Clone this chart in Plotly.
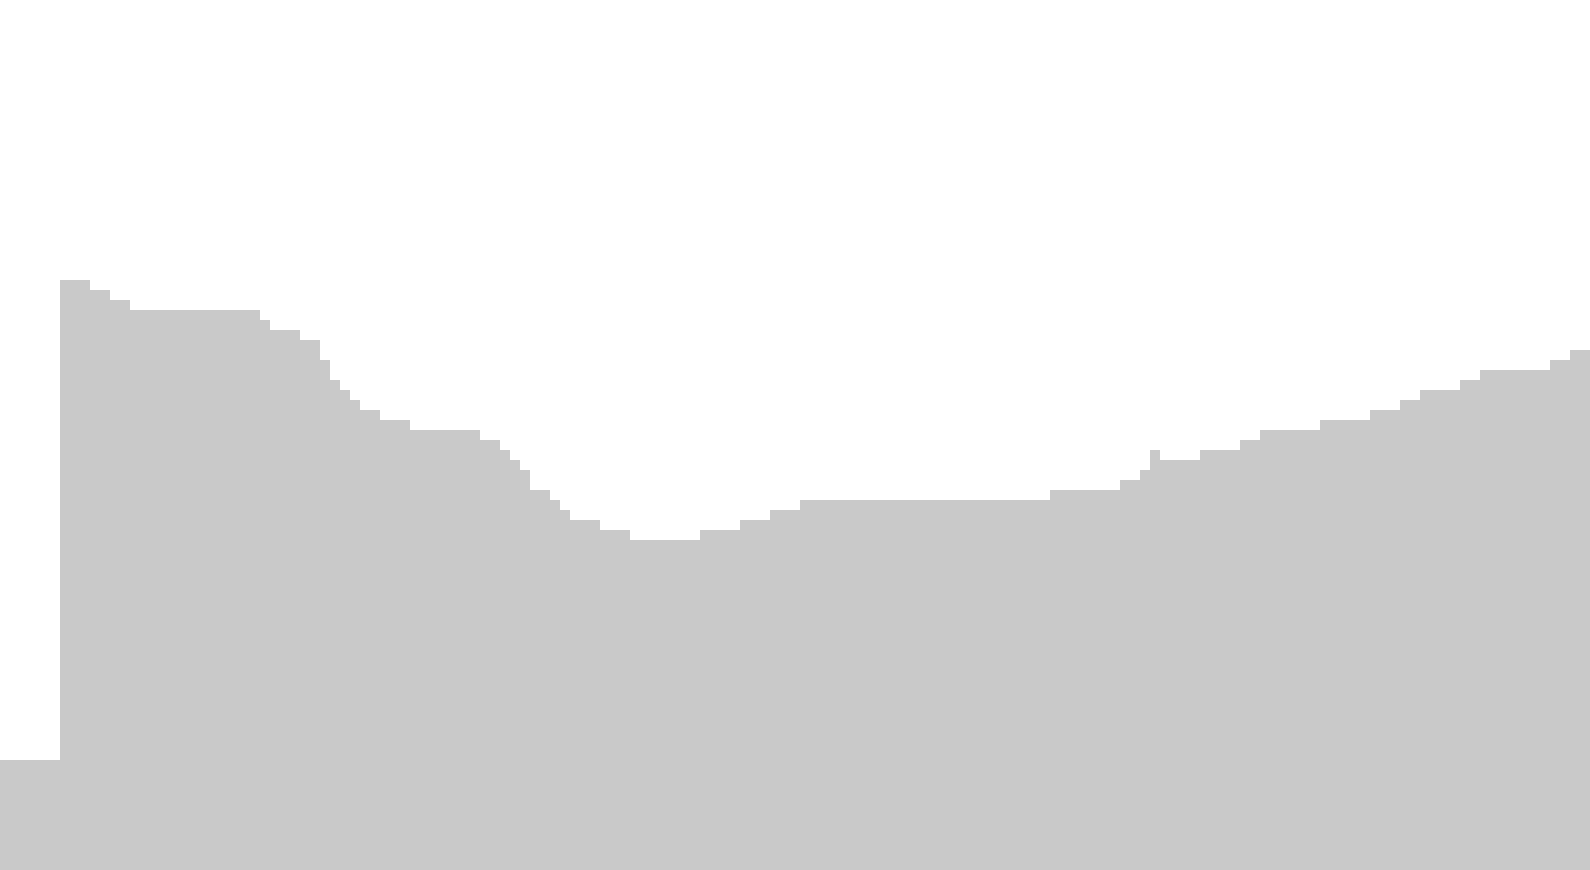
import plotly.graph_objects as go

# one value per bin (bins 0..158)
values = [
    11, 11, 11, 11, 11, 11, 59, 59, 59, 58,
    58, 57, 57, 56, 56, 56, 56, 56, 56, 56,
    56, 56, 56, 56, 56, 56, 55, 54, 54, 54,
    53, 53, 51, 49, 48, 47, 46, 46, 45, 45,
    45, 44, 44, 44, 44, 44, 44, 44, 43, 43,
    42, 41, 40, 38, 38, 37, 36, 35, 35, 35,
    34, 34, 34, 33, 33, 33, 33, 33, 33, 33,
    34, 34, 34, 34, 35, 35, 35, 36, 36, 36,
    37, 37, 37, 37, 37, 37, 37, 37, 37, 37,
    37, 37, 37, 37, 37, 37, 37, 37, 37, 37,
    37, 37, 37, 37, 37, 38, 38, 38, 38, 38,
    38, 38, 39, 39, 40, 42, 41, 41, 41, 41,
    42, 42, 42, 42, 43, 43, 44, 44, 44, 44,
    44, 44, 45, 45, 45, 45, 45, 46, 46, 46,
    47, 47, 48, 48, 48, 48, 49, 49, 50, 50,
    50, 50, 50, 50, 50, 51, 51, 52, 52,
]
bins = list(range(len(values)))

fig = go.Figure(
    go.Bar(
        x=bins,
        y=values,
        width=1,
        marker=dict(color="#c9c9c9", line=dict(width=0)),
        hoverinfo="skip",
    )
)

fig.update_layout(
    width=1590,
    height=870,
    margin=dict(l=0, r=0, t=0, b=0),
    paper_bgcolor="white",
    plot_bgcolor="white",
    bargap=0,
    showlegend=False,
)
fig.update_xaxes(visible=False, range=[-0.5, len(values) - 0.5])
fig.update_yaxes(visible=False, range=[0, 87])

# drop the browser's default body margin so the plot sits at the page corner
fig.write_html(
    "out.html",
    config={"displayModeBar": False},
    post_script="document.body.style.margin='0';document.body.style.overflow='hidden';",
)
